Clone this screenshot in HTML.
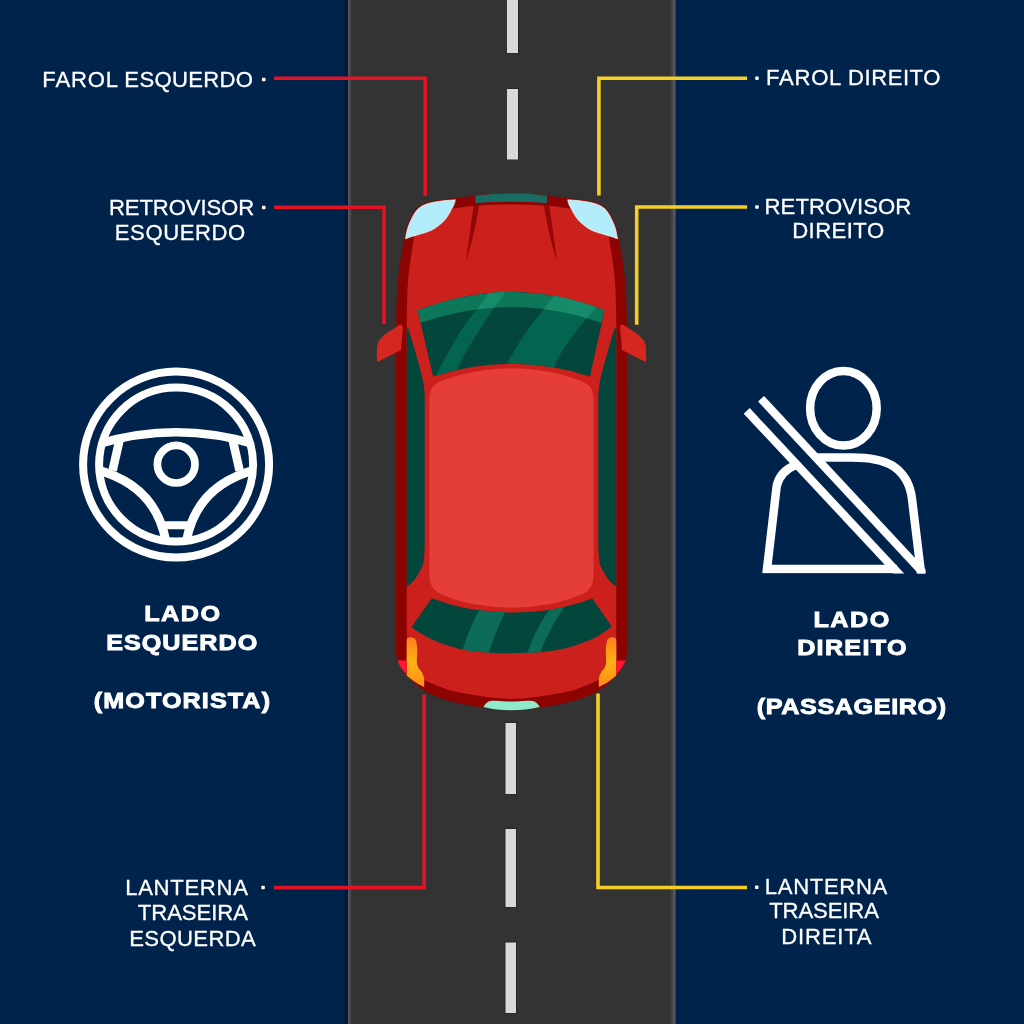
<!DOCTYPE html>
<html><head><meta charset="utf-8"><title>Lados do carro</title>
<style>
html,body{margin:0;padding:0;background:#00234b;}
body{width:1024px;height:1024px;overflow:hidden;font-family:"Liberation Sans",sans-serif;}
svg{display:block;}
text{font-family:"Liberation Sans",sans-serif;fill:#fff;}
</style></head><body>
<svg width="1024" height="1024" viewBox="0 0 1024 1024">
<defs>
<linearGradient id="tl" x1="0" y1="0" x2="0" y2="1">
<stop offset="0" stop-color="#ff7f1c"/><stop offset="0.5" stop-color="#ffb313"/><stop offset="1" stop-color="#ff8a1a"/>
</linearGradient>
<linearGradient id="le" x1="0" y1="0" x2="1" y2="0">
<stop offset="0" stop-color="#00234b"/><stop offset="1" stop-color="#00142f"/>
</linearGradient>
<linearGradient id="re" x1="0" y1="0" x2="1" y2="0">
<stop offset="0" stop-color="#333333"/><stop offset="0.6" stop-color="#4a4a4a"/><stop offset="1" stop-color="#5f656c"/>
</linearGradient>
<linearGradient id="le2" x1="0" y1="0" x2="1" y2="0">
<stop offset="0" stop-color="#5c5f63"/><stop offset="1" stop-color="#333333"/>
</linearGradient>
<clipPath id="pclip"><rect x="730" y="350" width="195.6" height="223.4"/></clipPath>
</defs>
<rect width="1024" height="1024" fill="#00234b"/>
<!-- road -->
<rect x="348" y="0" width="327.4" height="1024" fill="#333333"/>
<rect x="343" y="0" width="5" height="1024" fill="url(#le)"/>
<rect x="348" y="0" width="4" height="1024" fill="url(#le2)"/>
<rect x="669.4" y="0" width="6" height="1024" fill="url(#re)"/>
<!-- dashes -->
<g fill="#1c1c1c" opacity="0.55">
<rect x="507.6" y="-20" width="11.4" height="73.6"/>
<rect x="507.6" y="87.8" width="11.4" height="72.2"/>
<rect x="504.7" y="721.8" width="12.3" height="73"/>
<rect x="504.7" y="827.8" width="12.3" height="80"/>
<rect x="504.7" y="941.3" width="12.3" height="72.5"/>
</g>
<g fill="#d9d9d9">
<rect x="507" y="-20" width="11" height="73"/>
<rect x="507" y="89" width="11" height="70.5"/>
<rect x="505.5" y="723" width="10.5" height="71"/>
<rect x="505.5" y="829" width="10.5" height="78"/>
<rect x="505.5" y="942.5" width="10.5" height="70.5"/>
</g>
<g fill="none" stroke-width="3.6" stroke-linejoin="miter">
<path d="M274 78.2 H425.3 V196" stroke="#e41225"/>
<path d="M274 207.3 H384 V324.3" stroke="#e41225"/>
<path d="M273.8 887.6 H424.2 V694.4" stroke="#e41225"/>
<path d="M747.1 78.2 H598.9 V195.6" stroke="#f6cf24"/>
<path d="M747.1 207.0 H636.7 V324.8" stroke="#f6cf24"/>
<path d="M747 887.5 H598 V693.6" stroke="#f6cf24"/>
</g>

<g id="half">
<path fill="#8c0402" d="M514 193.2 C510.8 193.3 501.5 193.3 495 193.7 C488.5 194.1 481.7 194.9 475 195.7 C468.3 196.5 461.9 197.4 455 198.3 C448.1 199.2 439.6 199.7 433.5 201.2 C427.4 202.7 422.4 204.2 418.5 207.1 C414.6 210 412.7 213.6 410.4 218.8 C408.1 224 406 232.7 404.5 238.5 C403 244.3 402.6 247.8 401.6 253.5 C400.6 259.2 399.5 265.2 398.7 273 C397.9 280.8 397.1 288.8 396.7 300 C396.2 311.2 396.1 325.8 396 340 C395.9 354.2 395.8 377.5 395.8 385 L395.8 650 C395.9 651.2 396.1 654.8 396.6 657 C397.1 659.2 397.3 659.9 399 663 C400.7 666.1 402.5 671 406.7 675.6 C410.9 680.2 417.1 686.3 424 690.5 C430.9 694.7 438.2 697.7 448 700.6 C457.8 703.5 471.5 706.3 482.5 707.7 C493.5 709.1 508.8 708.8 514 709 Z"/>
<path fill="#cc201c" d="M514 204.4 C510.8 204.4 501.5 204.5 495 204.7 C488.5 204.9 481.7 205.2 474.8 205.8 C467.9 206.4 457 208.1 453.4 208.5 L414.3 235.9 C414 238 413.1 243.2 412.3 248.6 C411.5 253.9 410.2 261.1 409.4 268 C408.6 274.9 407.9 281.3 407.5 290 C407.1 298.7 406.8 315 406.7 320 L406.7 672.5 C409.6 673.8 417.1 677.1 424 680 C430.9 682.9 440.2 687.3 448 689.7 C455.8 692.1 463.2 693.1 471 694.5 C478.8 695.9 487.8 697.2 495 698 C502.2 698.8 510.8 698.8 514 699 Z"/>
<path fill="none" stroke="#8c0402" stroke-width="2.6" d="M405.5 238.8 C405.9 237 406.8 231.2 407.8 228 C408.8 224.8 410.2 221.8 411.4 219.3 C412.6 216.8 413.5 214.9 414.8 213 C416.1 211.1 417.4 209.4 419.2 208 C421 206.6 423.1 205.5 425.5 204.5 C427.9 203.5 430.7 202.8 433.8 202.2 C436.9 201.6 440.4 201.1 444 200.7 C447.6 200.3 453.4 200 455.3 199.8"/>
<path fill="#b3edfb" stroke="#f6f3ea" stroke-width="0.7" d="M405.5 238.8 C405.9 237 406.8 231.2 407.8 228 C408.8 224.8 410.2 221.8 411.4 219.3 C412.6 216.8 413.5 214.9 414.8 213 C416.1 211.1 417.4 209.4 419.2 208 C421 206.6 423.1 205.5 425.5 204.5 C427.9 203.5 430.7 202.8 433.8 202.2 C436.9 201.6 440.4 201.1 444 200.7 C447.6 200.3 453.4 200 455.3 199.8 C455.1 200.7 454.5 203.4 453.8 205 C453.1 206.6 452.4 207.8 451.4 209.5 C450.4 211.2 449.3 213.5 448 215.5 C446.7 217.5 445.3 219.5 443.6 221.2 C441.9 223 439.9 224.5 438 226 C436.1 227.5 434.1 228.9 431.9 230 C429.6 231.1 426.9 232 424.5 232.8 C422.1 233.6 419.4 234.2 417.2 234.9 C414.9 235.6 412.9 236.2 411 236.8 C409.1 237.5 406.4 238.5 405.5 238.8 Z"/>
<path fill="#930806" d="M473.6 205.6 L479 205.5 C477 220 473.5 236 467 258.6 L466.4 258.6 Z"/>
<path fill="#03463b" d="M408.3 328 C409.2 331.2 412.2 340.8 414 347 C415.8 353.2 417.5 359.3 419 365 C420.5 370.7 422.1 376.5 423 381 C423.9 385.5 424.2 388.2 424.5 392 C424.8 395.8 424.7 402 424.7 404 L424.7 546 C424.6 548.3 424.3 556.3 423.8 560 C423.3 563.7 423 564.8 421.5 568 C420 571.2 417.3 575.9 415 579 C412.7 582.1 408.8 585.3 407.5 586.6 L406.7 587 L406.7 329 Z"/>
<path fill="#e53e39" d="M514 368.6 C510.8 368.7 502.3 368.4 495 369 C487.7 369.6 477.5 371 470 372.5 C462.5 374 455.2 376.3 450 378 C444.8 379.7 441.8 380.8 438.8 382.5 C435.8 384.2 433.6 385.4 432 388 C430.4 390.6 429.8 396.3 429.4 398 L429.4 572 C429.6 573.8 429.5 579.8 430.5 583 C431.5 586.2 432.9 588.8 435.6 591 C438.4 593.2 442.3 594.7 447 596.5 C451.7 598.3 458.2 600.6 463.8 602 C469.2 603.4 474.8 604.2 480 605 C485.2 605.8 489.3 606.5 495 607 C500.7 607.5 510.8 607.7 514 607.8 Z"/>
<path fill="url(#tl)" d="M406.7 641.5 C406.8 641 406.8 638.9 407.5 638.2 C408.2 637.5 409.8 637.1 411 637.2 C412.2 637.3 414.1 637.8 415 638.8 C415.9 639.8 416.2 641.6 416.6 643.5 C417 645.4 417.1 647.8 417.2 650 C417.3 652.2 417.1 654.8 417 657 C416.9 659.2 416.6 661.2 416.8 663 C417.1 664.8 417.6 666.4 418.5 668 C419.4 669.6 421.1 670.8 422 672.5 C422.9 674.2 423.8 677.1 424.2 678 L424.2 687 C422.7 686.2 417.9 683.9 415 682 C412.1 680.1 408.1 676.7 406.7 675.6 Z"/>
<path fill="#ff1733" d="M397.6 660.6 L406.7 660.6 L406.7 674.6 C402.5 670.5 399.5 666 397.6 660.6 Z"/>
<path fill="#d5271f" d="M399 325 C399.4 325 401 324.6 401.6 324.8 C402.2 325.1 402.6 325.8 402.8 326.5 C403 327.2 402.8 328.6 402.8 329 L401 350 L378.4 361.4 C377.3 361.9 376.8 361.4 376.8 360.3 L377 347 C377.3 346.1 377.7 343.2 378.6 341.5 C379.5 339.8 381 338.2 382.5 336.7 C384 335.2 385.7 333.8 387.5 332.5 C389.3 331.2 391.5 330.2 393.4 329 C395.3 327.8 398.1 325.7 399 325 Z"/>
</g>
<use href="#half" transform="translate(1023,0) scale(-1,1)"/>
<path fill="#1a6b64" d="M475.4 195.8 Q511.5 190.9 547 195.8 L547 203.1 Q511.5 200.6 475.4 203.1 Z"/>
<path d="M475.4 204 Q511.5 201.6 547 204" fill="none" stroke="#8c0402" stroke-width="1.3"/>
<path fill="#8eeacb" d="M483.3 707 C487 701 490 700.6 496 700.8 C505 701.8 518 701.8 527 700.8 C533 700.6 536.5 701 539.8 707 C530 709.6 520 710.2 511.5 710.2 C503 710.2 493 709.6 483.3 707 Z"/>
<clipPath id="wclip"><path d="M417.5 310.3 Q511.5 273.7 604.6 310.3 L590 376.4 Q511.5 351 433.2 376.4 Z"/></clipPath>
<clipPath id="bclip"><path d="M417.5 310.3 Q511.5 273.7 604.6 310.3 L601.5 322.8 Q511.5 291 420.4 322.8 Z"/></clipPath>
<g clip-path="url(#wclip)">
<rect x="410" y="285" width="204" height="102" fill="#03463b"/>
<path fill="#03644f" d="M490.2 290 L506.8 290 L494.1 308 C489 315 485 321 481.4 327 C476 335 471 343 466.8 350.5 C462 359 458 366 453 380 L433.5 380 C438 371 442 363 447.2 354.4 C452 346 457 337 461.9 329 C467 321 472 315 477.5 309 Z"/><path fill="#03644f" d="M558.5 290 L600 303 C596 308 591 313 587 317.8 C582 324 578 329 573.4 334.9 C569.5 340 566 345 562.6 350.5 C559 356 556 361 550 380 L498 380 C501 373 504 368 507.4 362.2 C510.5 357 513.5 352 516.7 346.6 C521 340 525 333 529.4 327 C534 321 539 315 544 309 Z"/>
<path fill="#0d7759" d="M417.5 310.3 Q511.5 273.7 604.6 310.3 L601.5 322.8 Q511.5 291 420.4 322.8 Z"/>
</g>
<g clip-path="url(#bclip)">
<path fill="#168a69" d="M490.2 290 L506.8 290 L494.1 308 C489 315 485 321 481.4 327 C476 335 471 343 466.8 350.5 C462 359 458 366 453 380 L433.5 380 C438 371 442 363 447.2 354.4 C452 346 457 337 461.9 329 C467 321 472 315 477.5 309 Z"/><path fill="#168a69" d="M558.5 290 L600 303 C596 308 591 313 587 317.8 C582 324 578 329 573.4 334.9 C569.5 340 566 345 562.6 350.5 C559 356 556 361 550 380 L498 380 C501 373 504 368 507.4 362.2 C510.5 357 513.5 352 516.7 346.6 C521 340 525 333 529.4 327 C534 321 539 315 544 309 Z"/>
</g>
<clipPath id="rclip"><path d="M431.7 598.3 C434.2 599.2 441.7 601.9 447 603.5 C452.3 605.1 458.2 606.6 463.8 607.7 C469.2 608.8 474.8 609.6 480 610.3 C485.2 611 489.8 611.4 495 611.8 C500.2 612.2 505.5 612.6 511.5 612.6 C517.5 612.6 525.5 612.2 531.2 611.8 C537 611.4 540.8 611 546 610.3 C551.2 609.5 557.2 608.5 562.5 607.3 C567.8 606.1 573 604.8 578 603.3 C583 601.8 589.8 599.1 592.2 598.3 L611.7 626.6 C610.1 627.8 605 631.5 602 633.5 C599 635.5 597.8 636.5 593.8 638.3 C589.8 640.1 583.2 642.7 578 644.5 C572.8 646.3 567.8 647.8 562.5 649 C557.2 650.2 551.2 650.9 546 651.5 C540.8 652.1 537 652.3 531.2 652.6 C525.5 652.9 517.5 653.1 511.5 653.2 C505.5 653.3 500.2 653.2 495 653 C489.8 652.8 485.2 652.5 480 652 C474.8 651.5 469.2 650.9 463.8 649.8 C458.2 648.7 452.2 646.9 447 645.2 C441.8 643.5 436.8 641.7 432.5 639.7 C428.2 637.8 424.5 635.6 421 633.5 C417.5 631.4 413 628.2 411.4 627.2 Z"/></clipPath>
<g clip-path="url(#rclip)">
<rect x="400" y="590" width="224" height="80" fill="#03463b"/>
<path fill="#0d6b59" d="M485 600 L512 600 C505 612 499 624 494.5 636 C491.5 644 489.5 650 487.5 660 L459.5 660 C462 650 465 642 468.5 633 C473 622 478 611 485 600 Z"/>
<path fill="#0d6b59" d="M556.5 600 L569 600 C560 613 553 625 547.5 636 C543.5 644 540.5 651 538 660 L525 660 C528 650 531 643 535 634 C540.5 622.5 547.5 611 556.5 600 Z"/>
</g>
<clipPath id="sclip"><circle cx="176.1" cy="464.6" r="79"/></clipPath>
<g fill="none" stroke="#fff" stroke-width="8">
<circle cx="176.1" cy="464.6" r="93"/>
<circle cx="176.1" cy="464.6" r="77"/>
<circle cx="176.2" cy="464.2" r="18.8" stroke-width="7.7"/>
<g clip-path="url(#sclip)">
<path d="M96 444.6 Q176.1 419.8 256.2 444.6" stroke-width="8.6"/>
<path d="M120 438 L112.6 470.5" stroke-width="8.6"/>
<path d="M232.2 438 L239.6 470.5" stroke-width="8.6"/>
<path d="M92 468.6 C133 478 158 500.5 165.6 540" stroke-width="8.8"/>
<path d="M260.2 468.6 C219.2 478 194.2 500.5 186.6 540" stroke-width="8.8"/>
<path d="M165 525.3 H187.5" stroke-width="8"/>
</g>
</g>
<g fill="none" stroke="#fff" stroke-width="8.5" clip-path="url(#pclip)">
<ellipse cx="843.4" cy="408.3" rx="33.3" ry="37.3"/>
<path d="M921.6 578 L912 499 C910.5 486 905 474 893 466 C882 459.5 868 457.5 852 457.5 L816 457.5"/>
<path d="M795 465.3 C786 469 779 476 776.7 486 L767 569 L897 569"/>
<path d="M761.1 398.7 L927.4 577.3" stroke-width="8.2" />
<path d="M746.7 410.9 L902.1 577.3" stroke-width="8.2"/>
</g>
<g opacity="0.999">
<text id="t1" transform="translate(42.35 87.25) scale(1.0 1)" font-size="22.1" font-weight="400" stroke="#fff" stroke-width="0.3" textLength="75.58" lengthAdjust="spacing">FAROL</text>
<text id="t2" transform="translate(124.35 87.25) scale(1.0 1)" font-size="22.1" font-weight="400" stroke="#fff" stroke-width="0.3" textLength="128.65" lengthAdjust="spacing">ESQUERDO</text>
<text id="t3" transform="translate(109.00 215.3) scale(1.0 1)" font-size="22.1" font-weight="400" stroke="#fff" stroke-width="0.3" textLength="145.13" lengthAdjust="spacing">RETROVISOR</text>
<text id="t4" transform="translate(114.83 239.7) scale(1.0 1)" font-size="22.1" font-weight="400" stroke="#fff" stroke-width="0.3" textLength="130.29" lengthAdjust="spacing">ESQUERDO</text>
<text id="t5" transform="translate(125.20 895.2) scale(1.0 1)" font-size="22.1" font-weight="400" stroke="#fff" stroke-width="0.3" textLength="122.73" lengthAdjust="spacing">LANTERNA</text>
<text id="t6" transform="translate(137.76 920) scale(1.0 1)" font-size="22.1" font-weight="400" stroke="#fff" stroke-width="0.3" textLength="110.29" lengthAdjust="spacing">TRASEIRA</text>
<text id="t7" transform="translate(129.20 945.5) scale(1.0 1)" font-size="22.1" font-weight="400" stroke="#fff" stroke-width="0.3" textLength="126.63" lengthAdjust="spacing">ESQUERDA</text>
<text id="t8" transform="translate(766.00 84.6) scale(1.0 1)" font-size="22.1" font-weight="400" stroke="#fff" stroke-width="0.3" textLength="75.35" lengthAdjust="spacing">FAROL</text>
<text id="t9" transform="translate(848.10 84.6) scale(1.0 1)" font-size="22.1" font-weight="400" stroke="#fff" stroke-width="0.3" textLength="92.33" lengthAdjust="spacing">DIREITO</text>
<text id="t10" transform="translate(764.56 213.6) scale(1.0 1)" font-size="22.1" font-weight="400" stroke="#fff" stroke-width="0.3" textLength="146.74" lengthAdjust="spacing">RETROVISOR</text>
<text id="t11" transform="translate(792.20 238.3) scale(1.0 1)" font-size="22.1" font-weight="400" stroke="#fff" stroke-width="0.3" textLength="91.91" lengthAdjust="spacing">DIREITO</text>
<text id="t12" transform="translate(764.83 893.5) scale(1.0 1)" font-size="22.1" font-weight="400" stroke="#fff" stroke-width="0.3" textLength="122.45" lengthAdjust="spacing">LANTERNA</text>
<text id="t13" transform="translate(769.23 918.3) scale(1.0 1)" font-size="22.1" font-weight="400" stroke="#fff" stroke-width="0.3" textLength="109.70" lengthAdjust="spacing">TRASEIRA</text>
<text id="t14" transform="translate(781.35 943.75) scale(1.0 1)" font-size="22.1" font-weight="400" stroke="#fff" stroke-width="0.3" textLength="90.16" lengthAdjust="spacing">DIREITA</text>
<text id="b1" transform="translate(144.17 621.25) scale(1.15 1)" font-size="21.9" font-weight="700" stroke="#fff" stroke-width="0.9" textLength="66.00" lengthAdjust="spacing">LADO</text>
<text id="b2" transform="translate(106.17 649.6) scale(1.15 1)" font-size="21.9" font-weight="700" stroke="#fff" stroke-width="0.9" textLength="131.35" lengthAdjust="spacing">ESQUERDO</text>
<text id="b3" transform="translate(93.82 708.2) scale(1.15 1)" font-size="21.9" font-weight="700" stroke="#fff" stroke-width="0.9" textLength="153.22" lengthAdjust="spacing">(MOTORISTA)</text>
<text id="b4" transform="translate(813.46 626.5) scale(1.15 1)" font-size="21.9" font-weight="700" stroke="#fff" stroke-width="0.9" textLength="65.92" lengthAdjust="spacing">LADO</text>
<text id="b5" transform="translate(797.17 655.1) scale(1.15 1)" font-size="21.9" font-weight="700" stroke="#fff" stroke-width="0.9" textLength="95.08" lengthAdjust="spacing">DIREITO</text>
<text id="b6" transform="translate(756.82 713.5) scale(1.15 1)" font-size="21.9" font-weight="700" stroke="#fff" stroke-width="0.9" textLength="164.59" lengthAdjust="spacing">(PASSAGEIRO)</text>
</g>
<g fill="#fff">
<rect x="262" y="77.7" width="3.5" height="3.5" rx="0.8"/>
<rect x="262" y="205.7" width="3.5" height="3.5" rx="0.8"/>
<rect x="261.3" y="885.8" width="3.5" height="3.5" rx="0.8"/>
<rect x="755.2" y="76.4" width="3.5" height="3.5" rx="0.8"/>
<rect x="755.2" y="205.3" width="3.5" height="3.5" rx="0.8"/>
<rect x="755" y="885.6" width="3.5" height="3.5" rx="0.8"/>
</g>
</svg></body></html>
